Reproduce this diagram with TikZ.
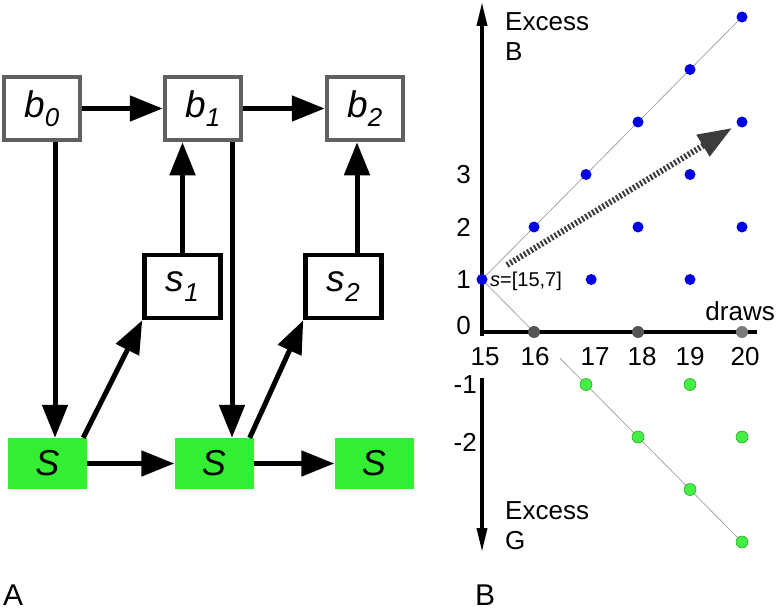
\documentclass[tikz,border=0pt]{standalone}
\usepackage{fontspec}
\setmainfont{Liberation Sans}
\usetikzlibrary{arrows.meta,backgrounds}
\definecolor{boxgray}{HTML}{606060}
\definecolor{stategreen}{HTML}{33EE33}
\definecolor{dotblue}{HTML}{0000E6}
\definecolor{dotgreen}{HTML}{44EE44}
\definecolor{dotedge}{HTML}{2AAA2A}
\definecolor{arrgray}{HTML}{3C3C3C}

\begin{document}
\begin{tikzpicture}[
    x=1pt, y=-1pt,
    bbox/.style={rectangle, draw=boxgray, line width=4.5pt, minimum width=76pt, minimum height=63pt, inner sep=0pt, font=\fontsize{37}{42}\selectfont\itshape},
    sbox/.style={bbox, draw=black},
    gbox/.style={rectangle, fill=stategreen, minimum width=79pt, minimum height=51pt, inner sep=0pt, font=\fontsize{36}{40}\selectfont\itshape},
    flow/.style={line width=5pt, -{Triangle[length=33pt,width=25pt]}},
    axis/.style={line width=3.5pt},
    guide/.style={draw=black!35, line width=0.8pt},
    bdot/.style={circle, fill=dotblue, inner sep=0pt, minimum size=11pt},
    zdot/.style={circle, fill=black!67, inner sep=0pt, minimum size=12pt},
    gdot/.style={circle, fill=dotgreen, draw=dotedge, line width=0.6pt, inner sep=0pt, minimum size=12pt},
    txt/.style={inner sep=0pt, font=\fontsize{26}{30}\selectfont},
    xlbl/.style={txt, fill=white, inner sep=2pt},
    wide/.style={minimum width=50pt, minimum height=42pt},
    dotarr/.style={draw=arrgray, line width=6pt, dash pattern=on 2pt off 2pt, -{Triangle[length=34pt,width=24pt]}}
]
  \useasboundingbox (0,0) rectangle (776,610);

  % A: belief boxes
  \node[bbox] (b0) at (42,108.5) {b\textsubscript{0}};
  \node[bbox] (b1) at (203,108.5) {b\textsubscript{1}};
  \node[bbox] (b2) at (365,108.5) {b\textsubscript{2}};
  % A: signal boxes
  \node[sbox] (s1) at (182.5,286.5) {s\textsubscript{1}};
  \node[sbox] (s2) at (343.5,286.5) {s\textsubscript{2}};
  % A: states
  \node[gbox] (S0) at (47.5,463.5) {S};
  \node[gbox] (S1) at (214,463.5) {S};
  \node[gbox] (S2) at (374,463.5) {S};

  % A: edges
  \draw[flow] (b0) -- (b1);
  \draw[flow] (b1) -- (b2);
  \draw[flow] ([xshift=13pt]b0.south) -- ([xshift=13pt]b0.south |- S0.north);
  \draw[flow] ([xshift=29pt]b1.south) -- ([xshift=29pt]b1.south |- S1.north);
  \draw[flow] (s1.north) -- (s1.north |- b1.south);
  \draw[flow] ([xshift=13.5pt]s2.north) -- ([xshift=13.5pt]s2.north |- b2.south);
  \draw[flow] ([xshift=-4pt]S0.north east) -- (s1.south west);
  \draw[flow] ([xshift=-4pt]S1.north east) -- (s2.south west);
  \draw[flow] (S0) -- (S1);
  \draw[flow] (S1) -- (S2);

  % B: axes
  \coordinate (ytop) at (482,2);
  \coordinate (ybot) at (482,552);
  \coordinate (o) at (482,332);
  \coordinate (xend) at (757,332);
  \draw[axis, {Triangle[length=24pt,width=10pt]}-{Triangle[length=24pt,width=10pt]}] (ybot) -- (ytop);
  \draw[axis] (o) -- (xend);

  % B: draws labels
  \node[xlbl, wide] (t15) at (485,357) {15};
  \node[xlbl, wide] (t16) at (535,357) {16};
  \node[xlbl] (t17) at (595,357) {17};
  \node[xlbl] (t18) at (642,357) {18};
  \node[xlbl] (t19) at (690,357) {19};
  \node[xlbl] (t20) at (745,357) {20};

  \begin{scope}[shift={(-298,332)}, x=52pt, y=52.5pt]
    % blue dots
    \node[bdot] (d15x1) at (15,1) {};
    \node[bdot] (d17x1) at (17.1,1) {};
    \node[bdot] (d19x1) at (19,1) {};
    \node[bdot] (d16x2) at (16,2) {};
    \node[bdot] (d18x2) at (18,2) {};
    \node[bdot] (d20x2) at (20,2) {};
    \node[bdot] (d17x3) at (17,3) {};
    \node[bdot] (d19x3) at (19,3) {};
    \node[bdot] (d18x4) at (18,4) {};
    \node[bdot] (d20x4) at (20,4) {};
    \node[bdot] (d19x5) at (19,5) {};
    \node[bdot] (d20x6) at (20,6) {};
    % gray dots
    \node[zdot] (z16) at (16,0) {};
    \node[zdot] (z18) at (18,0) {};
    \node[zdot, fill=black!52] (z20) at (20,0) {};
    % green dots
    \node[gdot] (g17x1) at (17,-1) {};
    \node[gdot] (g19x1) at (19,-1) {};
    \node[gdot] (g18x2) at (18,-2) {};
    \node[gdot] (g20x2) at (20,-2) {};
    \node[gdot] (g19x3) at (19,-3) {};
    \node[gdot] (g20x4) at (20,-4) {};
  \end{scope}

  \begin{scope}[on background layer]
    \draw[guide] (d15x1.center) -- (d20x6.center);
    \draw[guide] (d15x1.center) -- (g20x4.center);
  \end{scope}

  % B: mean drift
  \coordinate (ds) at (507,265);
  \coordinate (de) at (732,128);
  \draw[dotarr] (ds) -- (de);

  % B: excess labels
  \node[txt, anchor=east] (e3) at (471,175) {3};
  \node[txt, anchor=east] (e2) at (471,227) {2};
  \node[txt, anchor=east] (e1) at (471,279.5) {1};
  \node[txt, anchor=east] (e0) at (471,326) {0};
  \node[txt, anchor=east] (em1) at (477,385) {-1};
  \node[txt, anchor=east] (em2) at (477,442) {-2};

  \node[txt, anchor=north west, align=left] (exb) at (505,12) {Excess\\B};
  \node[txt, anchor=north west, align=left] (exg) at (505,501) {Excess\\G};
  \node[txt, anchor=base east] (dr) at (775,320) {draws};
  \node[txt, anchor=west, font=\fontsize{20}{24}\selectfont] (st) at (490,281) {{\itshape s}=[15,7]};

  % panel letters
  \node[inner sep=0pt, anchor=base west, font=\fontsize{30}{36}\selectfont] (pa) at (3,605) {A};
  \node[inner sep=0pt, anchor=base west, font=\fontsize{30}{36}\selectfont] (pb) at (475,605) {B};
\end{tikzpicture}
\end{document}
